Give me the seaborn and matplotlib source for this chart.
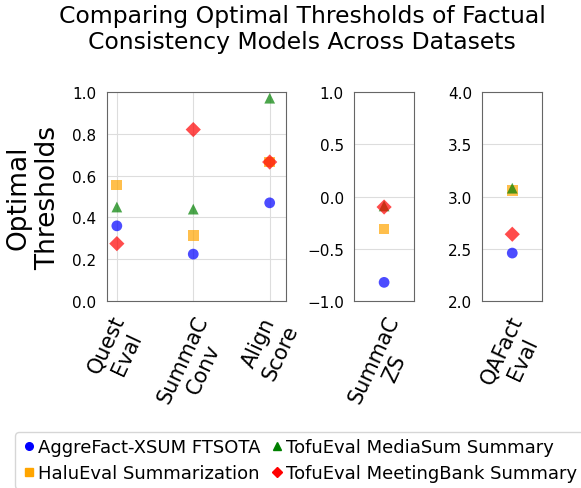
import pandas as pd
import matplotlib
matplotlib.use("Agg")
import matplotlib.pyplot as plt
import seaborn as sns

# Data
datasets = ["AggreFact-XSUM FTSOTA", "HaluEval Summarization",
            "TofuEval MediaSum Summary", "TofuEval MeetingBank Summary"]
colors = ["blue", "orange", "green", "red"]
markers = ["o", "s", "^", "D"]

models_01 = ["Quest\nEval", "SummaC\nConv", "Align\nScore"]
vals_01 = {
    "AggreFact-XSUM FTSOTA": [0.36, 0.225, 0.47],
    "HaluEval Summarization": [0.555, 0.315, 0.665],
    "TofuEval MediaSum Summary": [0.45, 0.44, 0.97],
    "TofuEval MeetingBank Summary": [0.275, 0.82, 0.665],
}
models_zs = ["SummaC\nZS"]
vals_zs = [-0.82, -0.31, -0.09, -0.1]
models_qa = ["QAFact\nEval"]
vals_qa = [2.46, 3.06, 3.08, 2.64]

sns.set_style("white")
plt.rcParams["font.family"] = ["DejaVu Sans"]
plt.rcParams["text.color"] = "black"
plt.rcParams["xtick.color"] = "black"
plt.rcParams["ytick.color"] = "black"
plt.rcParams["axes.labelcolor"] = "black"

fig, axes = plt.subplots(1, 3, figsize=(5.81, 4.89), dpi=100,
                         gridspec_kw={"width_ratios": [3, 1, 1]})
plt.subplots_adjust(left=0.184, right=0.933, top=0.810, bottom=0.382, wspace=0.69)

long = []
for d in datasets:
    for m, v in zip(models_01, vals_01[d]):
        long.append({"Model": m, "Dataset": d, "Threshold": v})
df1 = pd.DataFrame(long)
df2 = pd.DataFrame({"Model": models_zs * 4, "Dataset": datasets, "Threshold": vals_zs})
df3 = pd.DataFrame({"Model": models_qa * 4, "Dataset": datasets, "Threshold": vals_qa})

panels = [(df1, (0, 1), [0, 0.2, 0.4, 0.6, 0.8, 1.0]),
          (df2, (-1, 1), [-1, -0.5, 0, 0.5, 1.0]),
          (df3, (2, 4), [2, 2.5, 3, 3.5, 4])]

for ax, (df, ylim, yt) in zip(axes, panels):
    sns.scatterplot(data=df, x="Model", y="Threshold", hue="Dataset", style="Dataset",
                    hue_order=datasets, style_order=datasets,
                    palette=colors, markers=markers, s=60, alpha=0.7,
                    edgecolor="none", legend=False, ax=ax)
    ax.set_ylim(*ylim)
    ax.set_yticks(yt)
    ax.set_yticklabels([f"{t:.1f}".replace("-", "\u2212") for t in yt], fontsize=11)
    ax.set_xlabel("")
    ax.set_ylabel("")
    ax.tick_params(axis="x", labelsize=15, length=4, color="#444444")
    ax.tick_params(axis="y", length=4, color="#444444")
    for lab in ax.get_xticklabels():
        lab.set_rotation(65)
        lab.set_ha("center")
    for sp in ax.spines.values():
        sp.set_color("#666666")
    ax.grid(axis="y", color="#dddddd", linewidth=0.8)
    ax.set_axisbelow(True)

axes[0].set_xlim(-0.13, 2.21)
axes[0].grid(axis="x", color="#dddddd", linewidth=0.8)
axes[1].set_xlim(-0.5, 0.5)
axes[2].set_xlim(-0.5, 0.5)

axes[0].set_ylabel("Optimal\nThresholds", fontsize=19, labelpad=8)

fig.suptitle("Comparing Optimal Thresholds of Factual\nConsistency Models Across Datasets",
             fontsize=16.9, x=0.52, y=0.99, linespacing=1.2)

handles = [plt.Line2D([], [], marker=mk, color=c, linestyle="", markersize=5.5)
           for mk, c in zip(markers, colors)]
fig.legend(handles, datasets, loc="lower left", bbox_to_anchor=(0.011, -0.02),
           ncol=2, fontsize=13, handletextpad=0.1, columnspacing=0.5,
           handlelength=0.8, borderpad=0.35, labelspacing=0.45)

fig.savefig("out.png", dpi=100)
